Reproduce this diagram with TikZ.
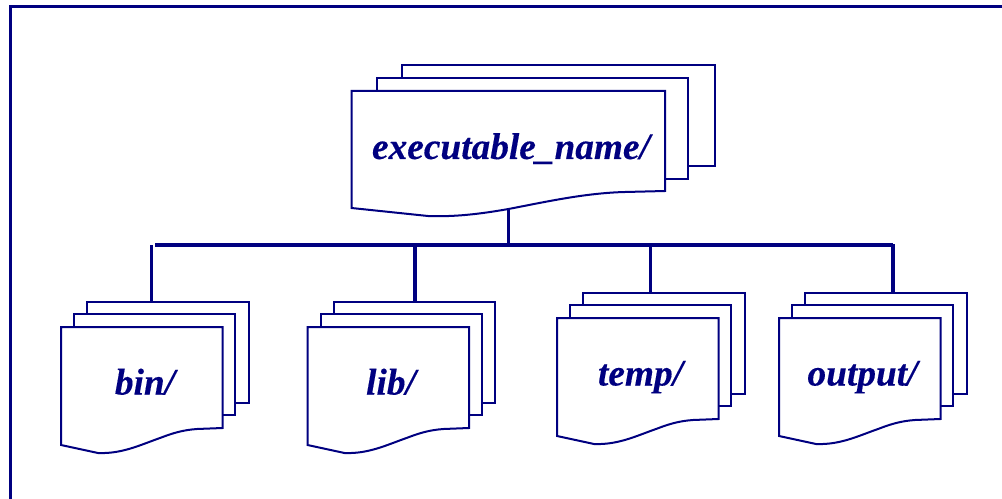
\documentclass[tikz,border=0pt]{standalone}
\usepackage{fontspec}
\setmainfont{Liberation Serif}[BoldItalicFeatures={FakeBold=0.25}]
\definecolor{dirblue}{HTML}{000080}
\tikzset{
  px/.style={x=0.75pt,y=-0.75pt},
  sheet/.style={draw=dirblue,fill=white,line width=1.5pt,line join=miter},
  link/.style={draw=dirblue,line width=2.3pt},
  frameline/.style={draw=dirblue,line width=2.4pt},
  label/.style={text=dirblue,font=\fontsize{28}{30}\selectfont\bfseries\itshape,anchor=base,inner sep=0pt},
}
% back sheet: x1,y1,x2,y2 ; name
\newcommand{\backsheet}[5]{%
  \path[sheet] (#1,#2) rectangle (#3,#4);
  \coordinate (#5) at (#1,#2);
}
% small stack: #1 prefix, #2 front x, #3 front top y
\newcommand{\smallstack}[3]{%
  \begin{scope}[shift={(#2,#3)}]
    \backsheet{26}{-25.5}{187.5}{75.5}{#1back}
    \backsheet{13}{-13}{174}{88}{#1mid}
    \path[sheet] (0,0) -- (161.5,0) -- (161.5,101) -- (136,102)
      .. controls (122,103) and (112,106) .. (99,111)
      .. controls (79,118) and (61,127) .. (37,126)
      -- (0,118) -- cycle;
  \end{scope}
}
\begin{document}
\begin{tikzpicture}[px]
\useasboundingbox (0,0) rectangle (1002,499);
\begin{scope}
\clip (0,0) rectangle (1002,499);
\draw[frameline] (10.5,502) -- (10.5,6.5) -- (1005,6.5);
\end{scope}

% top stack
\backsheet{402}{65.5}{715}{166}{topback}
\backsheet{377}{78}{688}{179}{topmid}
\path[sheet] (351.5,91) -- (665,91) -- (665,191) -- (625,192)
  .. controls (585,193) and (545,202) .. (508.5,209)
  .. controls (480,214) and (455,217) .. (428,216)
  -- (351.5,208) -- cycle;
\node[label] (execlabel) at (511,159) {executable\_name/};

% lower stacks
\smallstack{bin}{61}{327}
\node[label] (binlabel) at (145,394.5) {bin/};
\smallstack{lib}{307.5}{327}
\node[label] (liblabel) at (391,394.5) {lib/};
\smallstack{temp}{557}{318}
\node[label] (templabel) at (640.5,385.5) {temp/};
\smallstack{output}{779}{318}
\node[label] (outputlabel) at (862.5,385.5) {output/};

% connectors
\coordinate (busL) at (155,245);
\coordinate (busR) at (893,245);
\coordinate (trunkTop) at (508.5,209);
\coordinate (trunkBot) at (508.5,245);
\draw[link] (busL) -- (busR);
\draw[link] (trunkTop) -- (trunkBot);
\coordinate (binBus) at (151.5,245);
\coordinate (binTop) at (151.5,301.5);
\coordinate (libBus) at (415,245);
\coordinate (libTop) at (415,301.5);
\coordinate (tempBus) at (650.5,245);
\coordinate (tempTop) at (650.5,292.5);
\coordinate (outBus) at (893,244);
\coordinate (outTop) at (893,292.5);
\draw[link] (binBus) -- (binTop);
\draw[link] (libBus) -- (libTop);
\draw[link] (tempBus) -- (tempTop);
\draw[link] (outBus) -- (outTop);
\end{tikzpicture}
\end{document}
